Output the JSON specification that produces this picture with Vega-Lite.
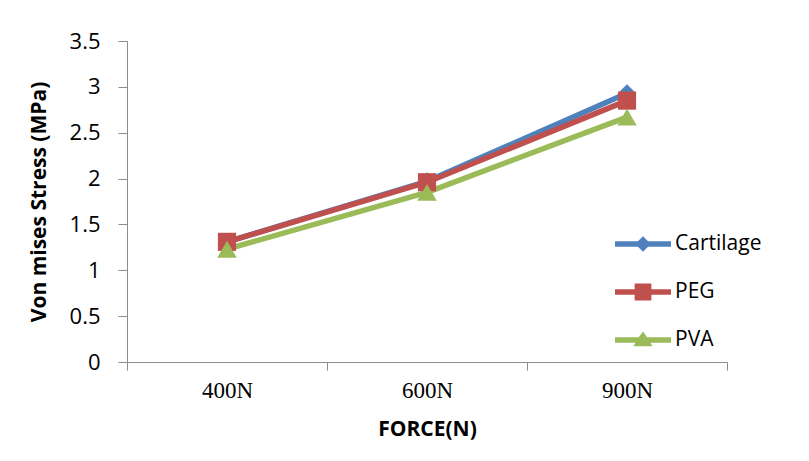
{
  "$schema": "https://vega.github.io/schema/vega-lite/v6.json",
  "autosize": "none",
  "width": 600,
  "height": 321,
  "padding": {"left": 127, "top": 41, "right": 82, "bottom": 99},
  "background": "white",
  "config": {"view": {"stroke": null}, "font": "Open Sans"},
  "data": {"values": [
    {"force": "400N", "series": "Cartilage", "stress": 1.31},
    {"force": "600N", "series": "Cartilage", "stress": 1.97},
    {"force": "900N", "series": "Cartilage", "stress": 2.93},
    {"force": "400N", "series": "PEG", "stress": 1.31},
    {"force": "600N", "series": "PEG", "stress": 1.96},
    {"force": "900N", "series": "PEG", "stress": 2.85},
    {"force": "400N", "series": "PVA", "stress": 1.23},
    {"force": "600N", "series": "PVA", "stress": 1.85},
    {"force": "900N", "series": "PVA", "stress": 2.67}
  ]},
  "encoding": {
    "x": {"field": "force", "type": "ordinal", "sort": ["400N", "600N", "900N"],
      "scale": {"paddingInner": 0, "paddingOuter": 0},
      "axis": {"title": "FORCE(N)", "labelAngle": 0, "tickBand": "extent", "domainColor": "#8c8c8c", "tickColor": "#8c8c8c", "tickSize": 8,
        "labelFont": "Liberation Serif", "labelFontSize": 23, "labelColor": "#000", "labelPadding": 9,
        "titleFont": "Open Sans", "titleFontSize": 21, "titleFontWeight": "bold", "titleColor": "#000", "titlePadding": 16}},
    "y": {"field": "stress", "type": "quantitative",
      "scale": {"domain": [0, 3.5], "nice": false},
      "axis": {"title": "Von mises Stress (MPa)", "values": [0, 0.5, 1, 1.5, 2, 2.5, 3, 3.5], "format": "~g", "grid": false, "domainColor": "#8c8c8c", "tickColor": "#8c8c8c", "tickSize": 9,
        "labelFontSize": 22, "labelColor": "#000", "labelPadding": 18,
        "titleFontSize": 21, "titleFontWeight": "bold", "titleColor": "#000", "titlePadding": 20}}
  },
  "layer": [
    {"mark": {"type": "line", "strokeWidth": 5.5},
     "encoding": {
       "color": {"field": "series", "type": "nominal",
         "scale": {"domain": ["Cartilage", "PEG", "PVA"], "range": ["#4F81BD", "#C0504D", "#9BBB59"]},
         "legend": {"title": null, "orient": "none", "legendX": 488, "legendY": 175, "labelFontSize": 21, "labelColor": "#000", "symbolSize": 3136, "rowPadding": 10, "labelOffset": 4, "symbolStrokeWidth": 0,
           "encode": {"symbols": {"update": {
             "fill": {"scale": "color", "field": "value"},
             "strokeWidth": {"value": 0},
             "shape": {"signal": "datum.value === 'Cartilage' ? 'M-1,-0.095L-0.18,-0.095L0,-0.28L0.18,-0.095L1,-0.095L1,0.095L0.18,0.095L0,0.28L-0.18,0.095L-1,0.095Z' : datum.value === 'PEG' ? 'M-1,-0.095L-0.3,-0.095L-0.3,-0.3L0.3,-0.3L0.3,-0.095L1,-0.095L1,0.095L0.3,0.095L0.3,0.3L-0.3,0.3L-0.3,0.095L-1,0.095Z' : 'M-1,-0.095L-0.15,-0.095L0,-0.3L0.15,-0.095L1,-0.095L1,0.095L0.27,0.095L0.34,0.22L-0.34,0.22L-0.27,0.095L-1,0.095Z'"}}}}}}}},
    {"mark": {"type": "point", "filled": true, "opacity": 1},
     "encoding": {
       "color": {"field": "series", "type": "nominal", "legend": null},
       "size": {"condition": {"test": "datum.series === 'PVA'", "value": 380}, "value": 330},
       "shape": {"condition": [
           {"test": "datum.series === 'Cartilage'", "value": "diamond"},
           {"test": "datum.series === 'PEG'", "value": "square"}],
         "value": "triangle-up"}}}
  ]
}
